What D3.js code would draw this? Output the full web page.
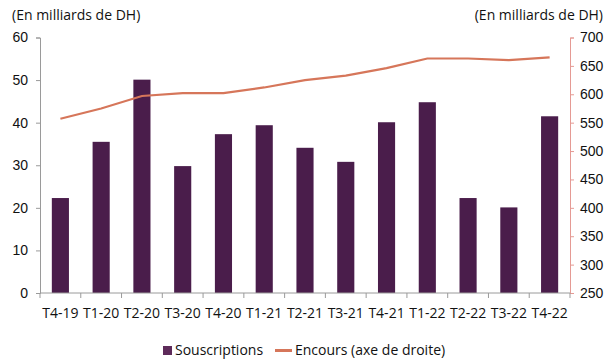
<!DOCTYPE html>
<html>
<head>
<meta charset="utf-8">
<script src="https://cdn.jsdelivr.net/npm/d3@7"></script>
<style>
  html, body { margin: 0; padding: 0; background: #fff; }
  svg { display: block; font-family: "Open Sans", sans-serif; }
</style>
</head>
<body>
<svg id="chart" width="614" height="360"></svg>
<script>
// Quarterly subscriptions (left axis) and outstanding amount (right axis), in billions of DH
const categories = ["T4-19", "T1-20", "T2-20", "T3-20", "T4-20", "T1-21", "T2-21", "T3-21", "T4-21", "T1-22", "T2-22", "T3-22", "T4-22"];
const souscriptions = [22.3, 35.5, 50.1, 29.8, 37.3, 39.4, 34.1, 30.8, 40.1, 44.8, 22.3, 20.1, 41.5];
const encours = [557, 575, 597, 602, 602, 612, 625, 633, 646, 663, 663, 660, 665];
const leftTicks = [0, 10, 20, 30, 40, 50, 60];
const rightTicks = [250, 300, 350, 400, 450, 500, 550, 600, 650, 700];

const svg = d3.select("#chart");
const plotLeft = 40, plotRight = 570, plotTop = 37.5, plotBottom = 293;

const x = d3.scaleBand().domain(categories).range([plotLeft, plotRight]).paddingInner(0.58).paddingOuter(0.29);
const yL = d3.scaleLinear().domain([0, 60]).range([plotBottom, plotTop]);
const yR = d3.scaleLinear().domain([250, 700]).range([plotBottom, plotTop]);

const barColor = "#4a1d4b";
const lineColor = "#d6765a";
const textColor = "#111";

// Bars
svg.append("g").selectAll("rect")
  .data(souscriptions)
  .join("rect")
  .attr("x", (d, i) => x(categories[i]))
  .attr("width", x.bandwidth())
  .attr("y", d => yL(d))
  .attr("height", d => yL(0) - yL(d))
  .attr("fill", barColor);

// Line on the right axis
const line = d3.line()
  .x((d, i) => x(categories[i]) + x.bandwidth() / 2)
  .y(d => yR(d));
svg.append("path")
  .datum(encours)
  .attr("d", line)
  .attr("fill", "none")
  .attr("stroke", lineColor)
  .attr("stroke-width", 2.2);

// Left axis
const gL = svg.append("g").attr("transform", `translate(${plotLeft},0)`)
  .call(d3.axisLeft(yL).tickValues(leftTicks).tickSize(4).tickPadding(8).tickFormat(d3.format("d")));
gL.select(".domain").attr("stroke", "#9a9a9a");
gL.selectAll(".tick line").attr("stroke", "#9a9a9a");
gL.selectAll("text").attr("fill", textColor).style("font-size", "14px");

// Right axis
const gR = svg.append("g").attr("transform", `translate(${plotRight},0)`)
  .call(d3.axisRight(yR).tickValues(rightTicks).tickSize(4).tickPadding(6).tickFormat(d3.format("d")));
gR.select(".domain").attr("stroke", "#e59a94");
gR.selectAll(".tick line").attr("stroke", "#e59a94");
gR.selectAll("text").attr("fill", textColor).style("font-size", "14px");

// Bottom axis with ticks between categories
const gX = svg.append("g").attr("transform", `translate(0,${plotBottom})`);
gX.append("line").attr("x1", plotLeft).attr("x2", plotRight).attr("stroke", "#9a9a9a");
const step = x.step();
const boundaries = d3.range(categories.length + 1).map(i => plotLeft + i * step);
gX.selectAll(".bt").data(boundaries).join("line")
  .attr("x1", d => d).attr("x2", d => d).attr("y1", 0).attr("y2", 5)
  .attr("stroke", "#9a9a9a");
gX.selectAll(".lbl").data(categories).join("text")
  .attr("x", d => x(d) + x.bandwidth() / 2)
  .attr("y", 25)
  .attr("text-anchor", "middle")
  .attr("fill", textColor)
  .style("font-size", "14px")
  .text(d => d);

// Axis unit titles
svg.append("text").attr("x", 12).attr("y", 20).attr("fill", textColor)
  .style("font-size", "14px").text("(En milliards de DH)");
svg.append("text").attr("x", 603).attr("y", 20).attr("text-anchor", "end").attr("fill", textColor)
  .style("font-size", "14px").text("(En milliards de DH)");

// Legend
const lg = svg.append("g");
lg.append("rect").attr("x", 163).attr("y", 346).attr("width", 9).attr("height", 9).attr("fill", "#5e2b5a");
lg.append("text").attr("x", 175).attr("y", 355).attr("fill", textColor).style("font-size", "14px").text("Souscriptions");
lg.append("line").attr("x1", 275).attr("x2", 292).attr("y1", 350.5).attr("y2", 350.5).attr("stroke", lineColor).attr("stroke-width", 3);
lg.append("text").attr("x", 295).attr("y", 355).attr("fill", textColor).style("font-size", "14px").text("Encours (axe de droite)");
</script>
</body>
</html>
